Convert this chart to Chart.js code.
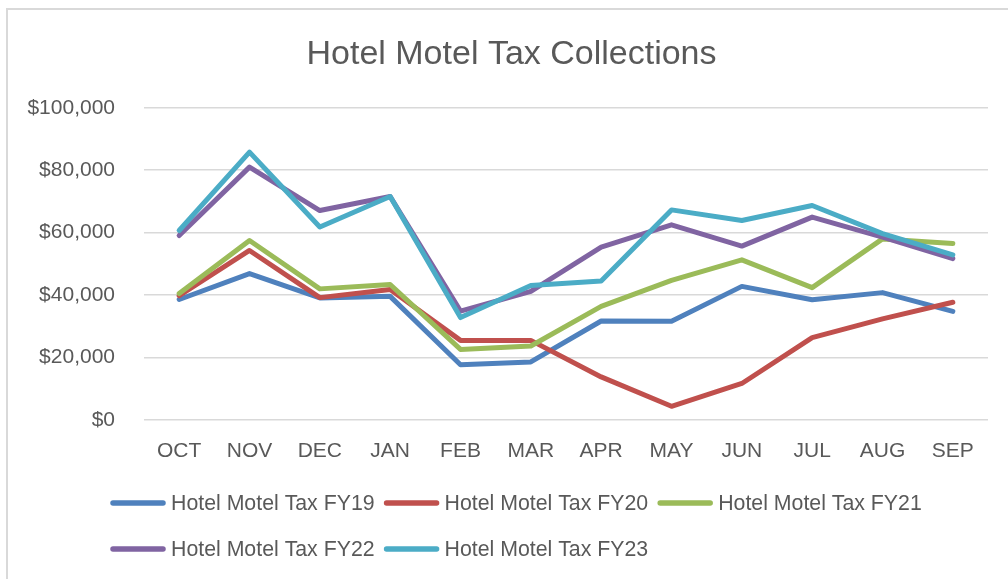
<!DOCTYPE html>
<html lang="en">
<head>
  <meta charset="UTF-8" />
  <title>Hotel Motel Tax Collections</title>
  <script src="https://cdn.jsdelivr.net/npm/chart.js"></script>
  <style>
    body { margin: 0; background: #fff; }
    canvas { display: block; }
  </style>
</head>
<body>
  <canvas id="taxChart" width="1008" height="579"></canvas>

  <script>
    const months = ['OCT', 'NOV', 'DEC', 'JAN', 'FEB', 'MAR', 'APR', 'MAY', 'JUN', 'JUL', 'AUG', 'SEP'];

    const fy19 = [38600, 46900, 39100, 39600, 17700, 18600, 31700, 31600, 42800, 38500, 40800, 34800];
    const fy20 = [39800, 54300, 39200, 41800, 25500, 25500, 13800, 4400, 11700, 26400, 32400, 37700];
    const fy21 = [40500, 57500, 42000, 43400, 22600, 23700, 36400, 44700, 51300, 42400, 58000, 56500];
    const fy22 = [59100, 81000, 67100, 71600, 34900, 41200, 55400, 62500, 55700, 65000, 58600, 51700];
    const fy23 = [60700, 85800, 61800, 71600, 32800, 43100, 44500, 67300, 63900, 68700, 59700, 52900];

    const seriesNames = ['Hotel Motel Tax FY19', 'Hotel Motel Tax FY20', 'Hotel Motel Tax FY21', 'Hotel Motel Tax FY22', 'Hotel Motel Tax FY23'];
    const seriesColors = ['#4F81BD', '#C0504D', '#9BBB59', '#8064A2', '#4BACC6'];
    const seriesData = [fy19, fy20, fy21, fy22, fy23];

    const textColor = '#595959';
    const fontName = "'Liberation Sans', Arial, sans-serif";

    // light frame on left + top edge, like the cropped Excel chart
    const framePlugin = {
      id: 'frame',
      afterLayout(chart) {
        // title sits a bit right of the layout centre in the original
        chart.titleBlock.left += 11;
      },
      beforeDraw(chart) {
        const ctx = chart.ctx;
        ctx.save();
        ctx.strokeStyle = '#d9d9d9';
        ctx.lineWidth = 2;
        ctx.beginPath();
        ctx.moveTo(7, chart.height);
        ctx.lineTo(7, 9);
        ctx.lineTo(chart.width, 9);
        ctx.stroke();
        ctx.restore();
      }
    };

    // Excel-style legend: two rows, left aligned
    const excelLegend = {
      id: 'excelLegend',
      afterDraw(chart) {
        const ctx = chart.ctx;
        const perRow = 3;
        const startX = 113;
        const rowY = [503, 549];
        const lineLen = 50;
        ctx.save();
        ctx.font = '21.3px ' + fontName;
        ctx.textBaseline = 'middle';
        ctx.fillStyle = textColor;
        let x = startX;
        chart.data.datasets.forEach((ds, i) => {
          const row = Math.floor(i / perRow);
          if (i % perRow === 0) x = startX;
          const y = rowY[row];
          ctx.strokeStyle = ds.borderColor;
          ctx.lineWidth = 5.5;
          ctx.lineCap = 'round';
          ctx.beginPath();
          ctx.moveTo(x, y);
          ctx.lineTo(x + lineLen, y);
          ctx.stroke();
          ctx.fillText(ds.label, x + lineLen + 8, y + 1);
          x += lineLen + 8 + ctx.measureText(ds.label).width + 12;
        });
        ctx.restore();
      }
    };

    const datasets = seriesData.map((vals, i) => ({
      label: seriesNames[i],
      data: vals,
      borderColor: seriesColors[i],
      backgroundColor: seriesColors[i],
      borderWidth: 5,
      borderJoinStyle: 'round',
      borderCapStyle: 'round',
      pointRadius: 0,
      tension: 0,
      fill: false,
      order: seriesData.length - i
    }));

    new Chart(document.getElementById('taxChart'), {
      type: 'line',
      data: { labels: months, datasets: datasets },
      plugins: [framePlugin, excelLegend],
      options: {
        responsive: false,
        animation: false,
        layout: { padding: { left: 24, right: 20, top: 14, bottom: 115 } },
        plugins: {
          legend: { display: false },
          tooltip: { enabled: false },
          title: {
            display: true,
            text: 'Hotel Motel Tax Collections',
            color: textColor,
            font: { family: fontName, size: 34, weight: 'normal' },
            padding: { top: 20, bottom: 33 }
          }
        },
        scales: {
          x: {
            offset: true,
            grid: { display: false, drawTicks: false },
            border: { display: false },
            afterFit: scale => { scale.height = 44; },
            ticks: {
              color: textColor,
              padding: 19,
              maxRotation: 0,
              autoSkip: false,
              font: { family: fontName, size: 21 }
            }
          },
          y: {
            min: 0,
            max: 100000,
            grid: { color: '#d9d9d9', lineWidth: 1.5, drawTicks: false },
            border: { display: false },
            afterFit: scale => { scale.width = 120; },
            ticks: {
              stepSize: 20000,
              color: textColor,
              padding: 29,
              font: { family: fontName, size: 21 },
              callback: v => '$' + v.toLocaleString('en-US')
            }
          }
        }
      }
    });
  </script>
</body>
</html>
